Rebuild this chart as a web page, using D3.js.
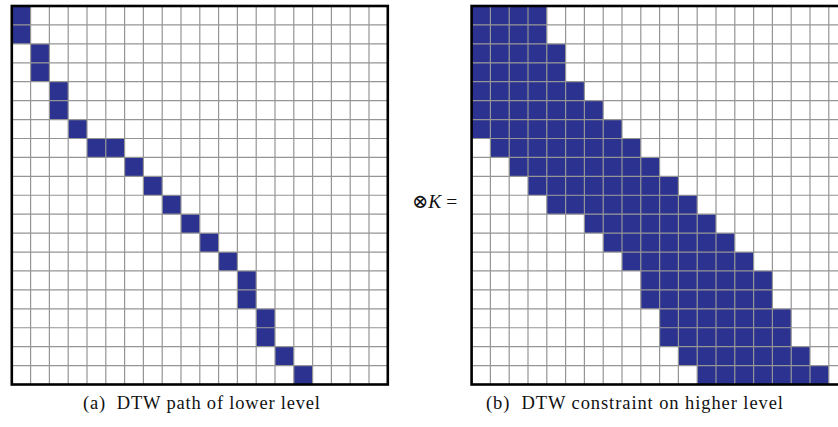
<!DOCTYPE html>
<html>
<head>
<meta charset="utf-8">
<script src="https://cdn.jsdelivr.net/npm/d3@7"></script>
<style>
  html, body { margin: 0; padding: 0; background: #fff; }
  svg { display: block; }
</style>
</head>
<body>
<svg id="chart" width="838" height="427"></svg>
<script>
// ---- data ----
const rows = d3.range(20);           // row indices (top to bottom)
const cols = d3.range(20);           // column indices (left to right)
// (a) DTW path: for each row, the list of filled columns
const pathCols = [[0],[0],[1],[1],[2],[2],[3],[4,5],[6],[7],[8],[9],[10],[11],[12],[12],[13],[13],[14],[15]];
// (b) constraint band: first and last filled column per row
const bandStart = [0,0,0,0,0,0,0,1,2,3,4,6,7,8,9,9,10,10,11,12];
const bandEnd   = [3,3,4,4,5,6,7,8,9,10,11,12,13,14,15,15,16,16,17,18];
const captions = ["(a)  DTW path of lower level", "(b)  DTW constraint on higher level"];

// ---- styles ----
const BLUE = "#2c3290";
const GRID = "#959595";

const svg = d3.select("#chart");

function drawGrid(g, x, y, cells) {
  g.selectAll("rect.cell").data(cells).join("rect")
    .attr("class", "cell")
    .attr("x", d => x(d.c)).attr("y", d => y(d.r))
    .attr("width", x.bandwidth()).attr("height", y.bandwidth())
    .attr("fill", BLUE);
  const [x0, x1] = x.range(), [y0, y1] = y.range();
  g.selectAll("line.v").data(cols.slice(1)).join("line")
    .attr("class", "v")
    .attr("x1", d => x(d)).attr("x2", d => x(d))
    .attr("y1", y0).attr("y2", y1)
    .attr("stroke", GRID).attr("stroke-width", 1.2);
  g.selectAll("line.h").data(rows.slice(1)).join("line")
    .attr("class", "h")
    .attr("y1", d => y(d)).attr("y2", d => y(d))
    .attr("x1", x0).attr("x2", x1)
    .attr("stroke", GRID).attr("stroke-width", 1.2);
  g.append("rect")
    .attr("x", x0).attr("y", y0)
    .attr("width", x1 - x0).attr("height", y1 - y0)
    .attr("fill", "none").attr("stroke", "#000").attr("stroke-width", 2.6);
}

const cw = 18.8;
const yTop = 6, yBot = 384.5;
const y = d3.scaleBand().domain(rows).range([yTop, yBot]).paddingInner(0).paddingOuter(0);

// left panel
const xL = d3.scaleBand().domain(cols).range([11.8, 11.8 + 20 * cw]);
const leftCells = [];
pathCols.forEach((cs, r) => cs.forEach(c => leftCells.push({r, c})));
drawGrid(svg.append("g"), xL, y, leftCells);

// right panel
const xR = d3.scaleBand().domain(cols).range([471.6, 471.6 + 20 * cw]);
const rightCells = [];
rows.forEach(r => { for (let c = bandStart[r]; c <= bandEnd[r]; c++) rightCells.push({r, c}); });
drawGrid(svg.append("g"), xR, y, rightCells);

// operator text
const op = svg.append("text")
  .attr("x", 412).attr("y", 208)
  .attr("font-family", "'Liberation Serif', 'DejaVu Serif', serif")
  .attr("font-size", 19.5).attr("fill", "#111");
op.append("tspan").text("\u2297");
op.append("tspan").attr("font-style", "italic").text("K");
op.append("tspan").text(" =");

// captions
const capX = [83, 486];
const capLen = [237, 297];
svg.selectAll("text.cap").data(captions).join("text")
  .attr("class", "cap")
  .attr("x", (d, i) => capX[i]).attr("y", 409)
  .attr("textLength", (d, i) => capLen[i])
  .attr("lengthAdjust", "spacing")
  .attr("font-family", "'Liberation Serif', 'DejaVu Serif', serif")
  .attr("font-size", 18.5).attr("fill", "#111")
  .attr("xml:space", "preserve")
  .style("white-space", "pre")
  .text(d => d);
</script>
</body>
</html>
